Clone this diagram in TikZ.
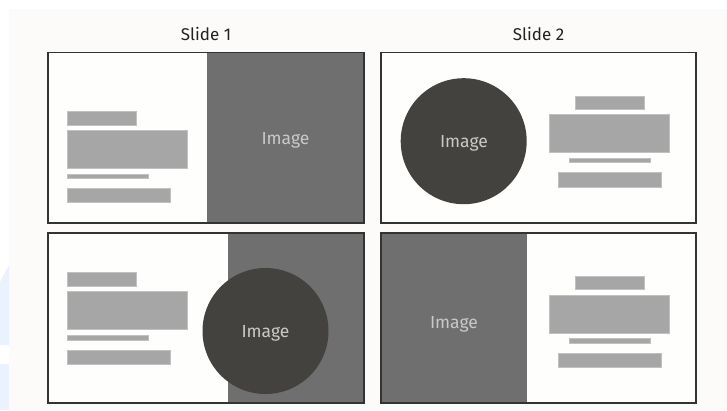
\documentclass[tikz,border=0pt]{standalone}
\usepackage{fontspec}
\setmainfont{Fira Sans}
\definecolor{bgc}{HTML}{FCFBF9}
\definecolor{panelc}{HTML}{FEFEFD}
\definecolor{edgec}{HTML}{333333}
\definecolor{imgc}{HTML}{6F6F6F}
\definecolor{circc}{HTML}{43423E}
\definecolor{blockc}{HTML}{A6A6A6}
\definecolor{labc}{HTML}{C9C9C9}
\definecolor{bluec}{HTML}{EAF3FD}
\definecolor{titlec}{HTML}{222222}
\tikzset{
  panel/.style={fill=panelc,draw=none},
  panelborder/.style={draw=edgec,line width=1.5pt},
  imgrect/.style={fill=imgc,draw=none},
  imgcirc/.style={fill=circc,draw=none},
  block/.style={fill=blockc,draw=blockc!70!white,line width=0.4pt},
  imglabel/.style={text=labc,font=\fontsize{17.5}{20}\selectfont,inner sep=0pt,anchor=base},
  title/.style={text=titlec,font=\fontsize{17}{20}\selectfont,inner sep=0pt,anchor=base}
}
\begin{document}
\begin{tikzpicture}[x=1pt,y=-1pt]
\useasboundingbox (0,0) rectangle (727,410);
\fill[white] (0,0) rectangle (727,410);
\fill[bgc] (9,9) rectangle (727,410);
% faint blue artifacts at left edge
\fill[bluec] (0,282) -- (9,265) -- (9,345) -- (0,345) -- cycle;
\fill[bluec] (0,364) rectangle (9,410);

% titles
\node[title] (t1) at (206,40.5) {Slide 1};
\node[title] (t2) at (538.5,40.5) {Slide 2};

% ---- Panel 1 (top-left)
\fill[panel] (48,52.5) rectangle (364,223);
\fill[imgrect] (207,52.5) rectangle (364,223);
\node[imglabel] (l1) at (285.5,144) {Image};
\draw[block] (67,111.5) rectangle (136,125);
\draw[block] (67,130.5) rectangle (187.5,168.5);
\draw[block] (67,174.5) rectangle (148,178.5);
\draw[block] (67,188.5) rectangle (170,202.5);
\draw[panelborder] (48,52.5) rectangle (364,223);

% ---- Panel 2 (top-right)
\fill[panel] (381,52.5) rectangle (696,223);
\fill[imgcirc] (463.7,141.2) circle (63);
\node[imglabel] (l2) at (464,147.3) {Image};
\draw[block] (575,96) rectangle (644,109);
\draw[block] (549.5,114.5) rectangle (669.5,152.5);
\draw[block] (569.5,157.8) rectangle (650,162.6);
\draw[block] (558.5,172.3) rectangle (661,186.7);
\draw[panelborder] (381,52.5) rectangle (696,223);

% ---- Panel 3 (bottom-left)
\fill[panel] (48,233) rectangle (364,403);
\fill[imgrect] (227.7,233) rectangle (364,403);
\fill[imgcirc] (265.5,331) circle (63);
\node[imglabel] (l3) at (265.5,337.5) {Image};
\draw[block] (67,272.3) rectangle (136,286);
\draw[block] (67,291.3) rectangle (187.5,329.3);
\draw[block] (67,335.3) rectangle (148,339.7);
\draw[block] (67,349.7) rectangle (170,363.7);
\draw[panelborder] (48,233) rectangle (364,403);

% ---- Panel 4 (bottom-right)
\fill[panel] (381,233) rectangle (696,403);
\fill[imgrect] (381,233) rectangle (526.7,403);
\node[imglabel] (l4) at (454,328.3) {Image};
\draw[block] (575,276.3) rectangle (644,289.3);
\draw[block] (549.5,294.7) rectangle (669.5,333);
\draw[block] (569.5,338.3) rectangle (650,343);
\draw[block] (558.5,352.7) rectangle (661,367);
\draw[panelborder] (381,233) rectangle (696,403);
\end{tikzpicture}
\end{document}
